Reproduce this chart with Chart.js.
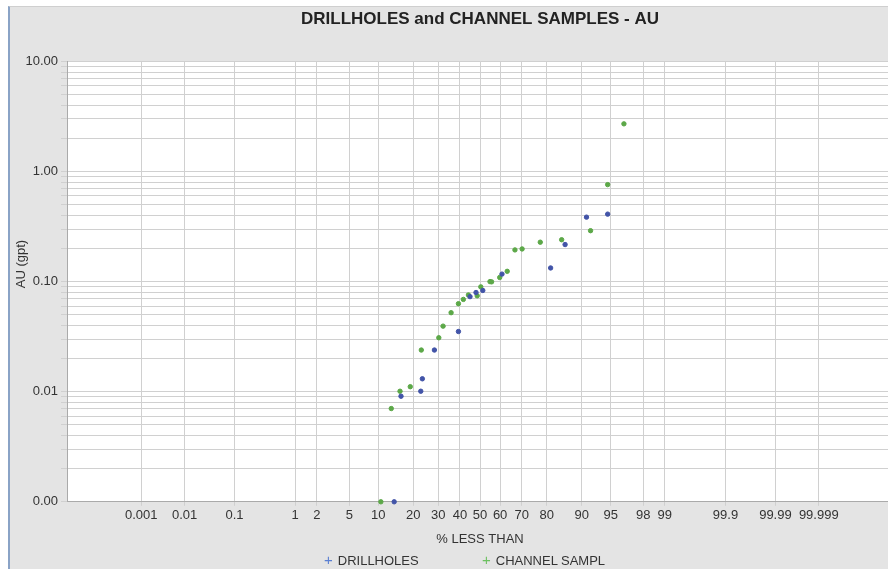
<!DOCTYPE html>
<html>
<head>
<meta charset="utf-8">
<script src="https://cdn.jsdelivr.net/npm/chart.js@4/dist/chart.umd.min.js"></script>
<style>
  html, body { margin: 0; padding: 0; background: #fff; overflow: hidden; }
  #frame { position: absolute; left: 8px; top: 6px; width: 880px; height: 563px;
           background: #e4e4e4; border-left: 2px solid #8aa3c6; border-top: 1px solid #cfcfcf; }
  #wrap { position: absolute; left: 0; top: 0; width: 888px; height: 569px; overflow: hidden; }
  #chart { position: absolute; left: 0; top: 0; }
  .leg { position: absolute; top: 551px; font: 13px 'Liberation Sans', Arial, sans-serif; color: #333; white-space: nowrap; }
  .leg b { font-weight: normal; font-size: 15px; margin-right: 5px; }
</style>
</head>
<body>
<div id="frame"></div>
<div id="wrap">
  <canvas id="chart" width="900" height="569"></canvas>
  <div class="leg" style="left:324px"><b style="color:#5a7fd2">+</b>DRILLHOLES</div>
  <div class="leg" style="left:482px"><b style="color:#6cc060">+</b>CHANNEL SAMPL</div>
</div>
<script>
// probability ticks along x (% less than)
const xTickValues = [0.001, 0.01, 0.1, 1, 2, 5, 10, 20, 30, 40, 50, 60, 70, 80, 90, 95, 98, 99, 99.9, 99.99, 99.999];
const xTickLabels = ['0.001', '0.01', '0.1', '1', '2', '5', '10', '20', '30', '40', '50', '60', '70', '80', '90', '95', '98', '99', '99.9', '99.99', '99.999'];
const xRange = [0.00001, 99.99999];
const yMajor = [0.001, 0.01, 0.1, 1, 10];

const seriesNames = ['DRILLHOLES', 'CHANNEL SAMPLES'];

// drillholes: cumulative % and AU (gpt)
const drillPct = [14.0, 16.0, 22.8, 23.4, 28.3, 39.3, 45.0, 48.0, 51.4, 60.9, 81.3, 85.8, 91.0, 94.6];
const drillAu  = [0.001, 0.0091, 0.0101, 0.0131, 0.0239, 0.0352, 0.073, 0.0796, 0.0831, 0.117, 0.133, 0.217, 0.385, 0.41];

// channel samples
const chanPct = [10.6, 13.2, 15.7, 19.0, 23.0, 30.2, 32.1, 35.8, 39.3, 41.7, 44.2, 48.6, 50.4, 55.0, 55.8, 59.8, 63.4, 67.0, 70.2, 77.6, 84.8, 91.8, 94.6, 96.5];
const chanAu  = [0.001, 0.00703, 0.0101, 0.0111, 0.0239, 0.0309, 0.0394, 0.0522, 0.063, 0.0689, 0.0756, 0.0743, 0.0896, 0.1, 0.0995, 0.109, 0.124, 0.194, 0.198, 0.228, 0.24, 0.29, 0.76, 2.71];

// inverse normal cdf (Acklam), used to put % on a probability axis
function probit(p) {
  const a = [-3.969683028665376e+01, 2.209460984245205e+02, -2.759285104469687e+02, 1.383577518672690e+02, -3.066479806614716e+01, 2.506628277459239e+00];
  const b = [-5.447609879822406e+01, 1.615858368580409e+02, -1.556989798598866e+02, 6.680131188771972e+01, -1.328068155288572e+01];
  const c = [-7.784894002430293e-03, -3.223964580411365e-01, -2.400758277161838e+00, -2.549732539343734e+00, 4.374664141464968e+00, 2.938163982698783e+00];
  const d = [7.784695709041462e-03, 3.224671290700398e-01, 2.445134137142996e+00, 3.754408661907416e+00];
  const plow = 0.02425, phigh = 1 - plow;
  let q, r;
  if (p < plow) {
    q = Math.sqrt(-2 * Math.log(p));
    return (((((c[0]*q+c[1])*q+c[2])*q+c[3])*q+c[4])*q+c[5]) / ((((d[0]*q+d[1])*q+d[2])*q+d[3])*q+1);
  }
  if (p > phigh) {
    q = Math.sqrt(-2 * Math.log(1 - p));
    return -(((((c[0]*q+c[1])*q+c[2])*q+c[3])*q+c[4])*q+c[5]) / ((((d[0]*q+d[1])*q+d[2])*q+d[3])*q+1);
  }
  q = p - 0.5; r = q * q;
  return (((((a[0]*r+a[1])*r+a[2])*r+a[3])*r+a[4])*r+a[5])*q / (((((b[0]*r+b[1])*r+b[2])*r+b[3])*r+b[4])*r+1);
}

const toPoints = (pct, au) => pct.map((p, i) => ({ x: probit(p / 100), y: au[i] }));

let yTicks = [];
yMajor.forEach((m, i) => {
  if (i === yMajor.length - 1) { yTicks.push(m); return; }
  for (let k = 1; k <= 9; k++) yTicks.push(+(m * k).toPrecision(3));
});

const FONT = "'Liberation Sans', Arial, sans-serif";

const plotBg = {
  id: 'plotBg',
  beforeDraw(chart) {
    const { ctx, chartArea: a } = chart;
    ctx.save();
    ctx.fillStyle = '#ffffff';
    ctx.fillRect(a.left, a.top, a.right - a.left, a.bottom - a.top);
    ctx.restore();
  },
  afterDraw(chart) {
    // y axis title, sits a little above the middle like in the source
    const ctx = chart.ctx;
    ctx.save();
    ctx.translate(21, 264);
    ctx.rotate(-Math.PI / 2);
    ctx.font = '13px ' + FONT;
    ctx.fillStyle = '#333';
    ctx.textAlign = 'center';
    ctx.textBaseline = 'middle';
    ctx.fillText('AU (gpt)', 0, 0);
    ctx.restore();
  }
};

new Chart(document.getElementById('chart'), {
  type: 'scatter',
  data: {
    datasets: [{
      label: seriesNames[0],
      data: toPoints(drillPct, drillAu),
      backgroundColor: '#4254a8',
      borderColor: '#4254a8',
      pointRadius: 2.2,
      clip: false
    }, {
      label: seriesNames[1],
      data: toPoints(chanPct, chanAu),
      backgroundColor: '#5ca848',
      borderColor: '#5ca848',
      pointRadius: 2.2,
      clip: false
    }]
  },
  options: {
    responsive: false,
    animation: false,
    layout: { padding: { left: 0, right: 7, top: 0, bottom: 22 } },
    plugins: {
      title: {
        display: true,
        fullSize: false,
        text: 'DRILLHOLES and CHANNEL SAMPLES - AU',
        color: '#222',
        font: { family: FONT, size: 17, weight: 'bold' },
        padding: { top: 9, bottom: 32 }
      },
      legend: { display: false },
      tooltip: { enabled: false }
    },
    scales: {
      x: {
        type: 'linear',
        min: probit(xRange[0] / 100),
        max: probit(xRange[1] / 100),
        afterBuildTicks(scale) {
          scale.ticks = xTickValues.map(p => ({ value: probit(p / 100) }));
        },
        ticks: {
          autoSkip: false,
          maxRotation: 0,
          padding: 2,
          color: '#333',
          font: { family: FONT, size: 13 },
          callback: (v, i) => xTickLabels[i]
        },
        grid: { color: '#d0d0d0', tickLength: 4 },
        border: { color: '#aaaaaa' },
        title: {
          display: true,
          text: '% LESS THAN',
          color: '#333',
          font: { family: FONT, size: 13 },
          padding: { top: 6, bottom: 0 }
        }
      },
      y: {
        type: 'logarithmic',
        min: 0.001,
        max: 10,
        afterBuildTicks(scale) {
          scale.ticks = yTicks.map(v => ({ value: v, major: yMajor.includes(v) }));
        },
        afterFit(scale) { scale.width = 67; },
        ticks: {
          autoSkip: false,
          padding: 3,
          color: '#333',
          font: { family: FONT, size: 13 },
          callback: v => yMajor.includes(v) ? v.toFixed(2) : ''
        },
        grid: { color: '#d0d0d0', tickLength: 6 },
        border: { color: '#aaaaaa' }
      }
    }
  },
  plugins: [plotBg]
});
</script>
</body>
</html>
